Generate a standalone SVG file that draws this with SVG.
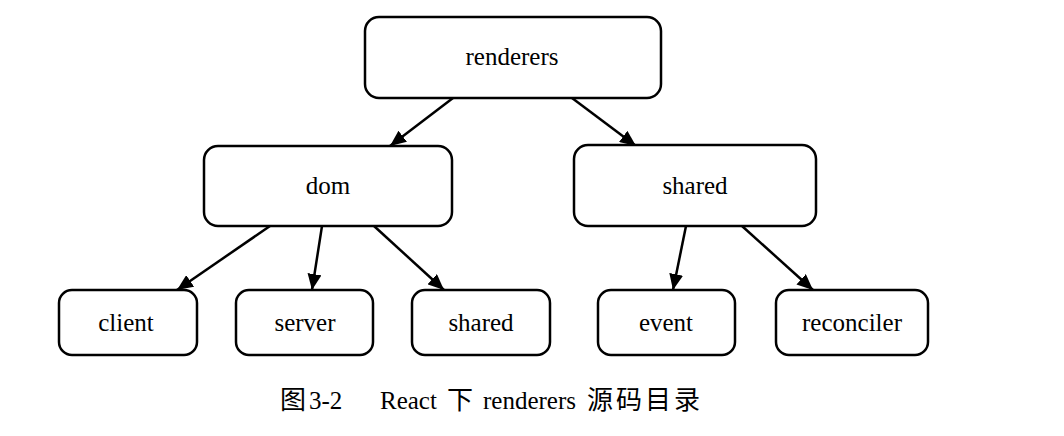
<svg xmlns="http://www.w3.org/2000/svg" width="1064" height="436" viewBox="0 0 1064 436">
<style>
.box{fill:#fff;stroke:#000;stroke-width:2.5}
.lbl{font-family:"Liberation Serif","Noto Sans CJK SC",serif;font-size:25px;fill:#000;text-anchor:middle}
.edge{stroke:#000;stroke-width:2.5;fill:none;marker-end:url(#ah)}
.cap{font-family:"Liberation Serif","Noto Sans CJK SC",serif;font-size:25px;fill:#000}
.lat{font-family:"Liberation Serif",serif}
.cjk{font-family:"Noto Sans CJK SC",sans-serif;font-size:26px}
</style>
<defs>
<marker id="ah" markerUnits="userSpaceOnUse" markerWidth="18" markerHeight="14" refX="16" refY="7" orient="auto">
<path d="M0,0 L16,7 L0,14 Z" fill="#000"/>
</marker>
</defs>
<rect width="1064" height="436" fill="#fff"/>
<g id="connectors">
<line class="edge" x1="453" y1="98" x2="390" y2="146"/>
<line class="edge" x1="572" y1="98" x2="636" y2="146"/>
<line class="edge" x1="270" y1="226" x2="177" y2="290"/>
<line class="edge" x1="322" y1="226" x2="312" y2="290"/>
<line class="edge" x1="374" y1="226" x2="444" y2="290"/>
<line class="edge" x1="686" y1="226" x2="673" y2="290"/>
<line class="edge" x1="742" y1="226" x2="813" y2="290"/>
</g>
<g id="renderers"><rect class="box" x="365" y="17" width="296" height="81" rx="14"/><text class="lbl" x="512" y="65">renderers</text></g>
<g id="dom"><rect class="box" x="204" y="146" width="248" height="80" rx="14"/><text class="lbl" x="328" y="194">dom</text></g>
<g id="shared1"><rect class="box" x="574" y="145" width="242" height="81" rx="14"/><text class="lbl" x="695" y="194">shared</text></g>
<g id="client"><rect class="box" x="59" y="290" width="138" height="65" rx="13"/><text class="lbl" x="126" y="331">client</text></g>
<g id="server"><rect class="box" x="236" y="290" width="137" height="65" rx="13"/><text class="lbl" x="305" y="331">server</text></g>
<g id="shared2"><rect class="box" x="412" y="290" width="138" height="65" rx="13"/><text class="lbl" x="481" y="331">shared</text></g>
<g id="event"><rect class="box" x="598" y="290" width="137" height="65" rx="13"/><text class="lbl" x="666" y="331">event</text></g>
<g id="reconciler"><rect class="box" x="776" y="290" width="152" height="65" rx="13"/><text class="lbl" x="852" y="331">reconciler</text></g>
<text class="cap" y="409"><tspan class="cjk" x="280">图</tspan><tspan class="lat" x="309">3-2</tspan><tspan class="lat" x="380">React</tspan><tspan class="cjk" x="447">下</tspan><tspan class="lat" x="483">renderers</tspan><tspan class="cjk" x="587" letter-spacing="3">源码目录</tspan></text>
</svg>
